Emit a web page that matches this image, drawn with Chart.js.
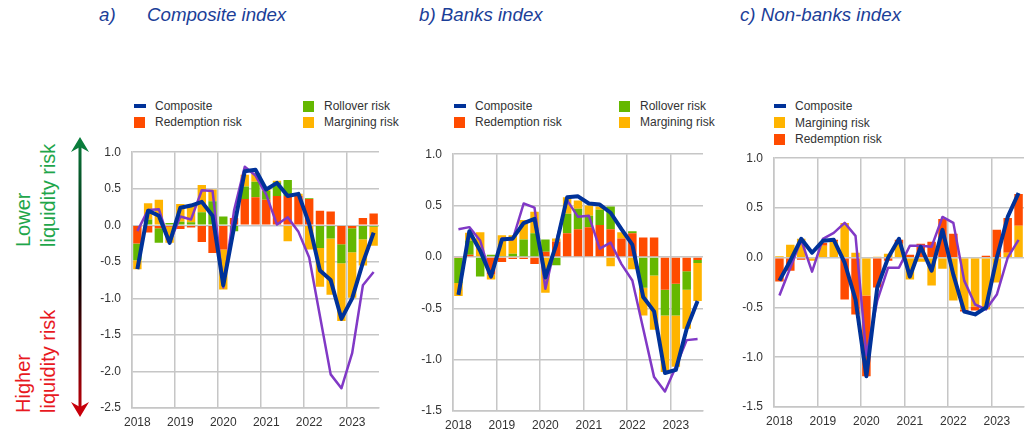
<!DOCTYPE html>
<html>
<head>
<meta charset="utf-8">
<script src="https://cdn.jsdelivr.net/npm/chart.js@4.4.0/dist/chart.umd.min.js"></script>
<style>
  body { margin: 0; width: 1030px; height: 432px; background: #fff; position: relative; overflow: hidden;
         font-family: "Liberation Sans", Arial, sans-serif; }
  .title { position: absolute; top: 4px; line-height: 22px; font-style: italic; font-size: 18.7px; color: #1b3e98; white-space: nowrap; }
  .leg { position: absolute; font-size: 12px; line-height: 16px; height: 16px; color: #333; white-space: nowrap; }
  .leg i { position: absolute; left: 0; top: 2.5px; width: 11px; height: 11px; }
  .leg i.ln { top: 6px; width: 12px; height: 4px; }
  .leg span { position: absolute; left: 21px; top: 0; }
  canvas { position: absolute; }
</style>
</head>
<body>

<svg width="100" height="432" style="position:absolute;left:0;top:0" font-family="Liberation Sans, Arial, sans-serif" font-size="20">
  <defs>
    <linearGradient id="arrowGrad" x1="0" y1="137" x2="0" y2="417" gradientUnits="userSpaceOnUse">
      <stop offset="0" stop-color="#0a7d3c"/>
      <stop offset="0.5" stop-color="#000"/>
      <stop offset="1" stop-color="#c8000a"/>
    </linearGradient>
  </defs>
  <line x1="80" y1="145" x2="80" y2="409" stroke="url(#arrowGrad)" stroke-width="3"/>
  <path d="M80 137 L71 152 L80 147 L89 152 Z" fill="#0a7d3c"/>
  <path d="M80 417 L71 402 L80 407 L89 402 Z" fill="#c8000a"/>
  <text transform="translate(30,247) rotate(-90)" fill="#1fa64b">Lower</text>
  <text transform="translate(54.5,247) rotate(-90)" fill="#1fa64b">liquidity risk</text>
  <text transform="translate(30,413) rotate(-90)" fill="#e8191f">Higher</text>
  <text transform="translate(54.5,413) rotate(-90)" fill="#e8191f">liquidity risk</text>
</svg>

<div class="title" style="left:99px">a)</div>
<div class="title" style="left:147px">Composite index</div>
<div class="title" style="left:419px">b) Banks index</div>
<div class="title" style="left:740px">c) Non-banks index</div>

<div class="leg" style="left:134px;top:98px"><i class="ln" style="background:#003299"></i><span>Composite</span></div>
<div class="leg" style="left:134px;top:114px"><i style="background:#ff4b00"></i><span>Redemption risk</span></div>
<div class="leg" style="left:303px;top:98px"><i style="background:#65b800"></i><span>Rollover risk</span></div>
<div class="leg" style="left:303px;top:114px"><i style="background:#ffb400"></i><span>Margining risk</span></div>

<div class="leg" style="left:454px;top:98px"><i class="ln" style="background:#003299"></i><span>Composite</span></div>
<div class="leg" style="left:454px;top:114px"><i style="background:#ff4b00"></i><span>Redemption risk</span></div>
<div class="leg" style="left:619px;top:98px"><i style="background:#65b800"></i><span>Rollover risk</span></div>
<div class="leg" style="left:619px;top:114px"><i style="background:#ffb400"></i><span>Margining risk</span></div>

<div class="leg" style="left:774px;top:98px"><i class="ln" style="background:#003299"></i><span>Composite</span></div>
<div class="leg" style="left:774px;top:114.5px"><i style="background:#ffb400"></i><span>Margining risk</span></div>
<div class="leg" style="left:774px;top:131px"><i style="background:#ff4b00"></i><span>Redemption risk</span></div>

<canvas id="chartA" width="295" height="298" style="left:90px;top:134px"></canvas>
<canvas id="chartB" width="298" height="296" style="left:411px;top:136px"></canvas>
<canvas id="chartC" width="298" height="292" style="left:732px;top:140px"></canvas>

<script>
const quarters = [
  "2018Q1", "2018Q2", "2018Q3", "2018Q4",
  "2019Q1", "2019Q2", "2019Q3", "2019Q4",
  "2020Q1", "2020Q2", "2020Q3", "2020Q4",
  "2021Q1", "2021Q2", "2021Q3", "2021Q4",
  "2022Q1", "2022Q2", "2022Q3", "2022Q4",
  "2023Q1", "2023Q2", "2023Q3"
];

// a) Composite index
const aComposite = [-0.6, 0.2, 0.13, -0.24, 0.24, 0.27, 0.32, 0.13, -0.82, -0.03, 0.74, 0.76, 0.49, 0.58, 0.4, 0.43, 0.02, -0.62, -0.75, -1.28, -1.0, -0.51, -0.1];
const aPurple = [-0.08, 0.21, 0.22, -0.24, 0.12, 0.08, 0.48, 0.47, -0.85, 0.2, 0.8, 0.68, 0.42, 0.01, 0.11, -0.09, -0.44, -1.24, -2.04, -2.23, -1.75, -0.82, -0.64];
const aRedemption = [-0.25, -0.1, -0.04, -0.02, -0.05, -0.03, -0.23, -0.38, -0.33, 0.1, 0.36, 0.385, 0.35, 0.4, 0.4, 0.4, 0.36, 0.2, 0.19, -0.26, -0.04, 0.1, 0.16];
const aRollover = [-0.23, 0.08, -0.2, 0.03, 0.05, 0.04, 0.18, 0.33, 0.12, -0.08, 0.17, 0.21, 0.12, 0.19, 0.22, 0, 0.01, -0.31, -0.18, -0.26, -0.33, -0.19, -0.02];
const aMargining = [-0.12, 0.22, 0.35, -0.22, 0.24, 0.24, 0.37, 0.16, -0.55, 0, 0.16, 0.12, 0.05, 0.02, -0.22, 0.03, -0.33, -0.53, -0.77, -0.79, -0.62, -0.36, -0.26];

// b) Banks index
const bComposite = [-0.37, 0.25, 0.06, -0.19, 0.17, 0.18, 0.33, 0.37, -0.2, 0.12, 0.58, 0.59, 0.52, 0.51, 0.43, 0.27, 0.12, -0.39, -0.53, -1.13, -1.1, -0.7, -0.43];
const bPurple = [0.27, 0.29, 0.16, -0.2, 0.18, 0.17, 0.52, 0.48, -0.31, 0.15, 0.55, 0.39, 0.4, 0.08, 0.14, -0.07, -0.23, -0.7, -1.17, -1.31, -1.07, -0.81, -0.8];
const bRedemption = [-0.01, 0.02, 0, -0.17, -0.05, -0.02, -0.02, -0.07, 0.05, 0.15, 0.23, 0.27, 0.29, 0.31, 0.27, 0.18, 0.23, 0.19, 0.19, -0.32, -0.26, -0.14, -0.03];
const bRollover = [-0.245, 0.14, -0.19, 0.02, 0.01, 0.03, 0.17, 0.23, 0.12, -0.08, 0.19, 0.2, 0.11, 0.15, 0.22, 0, 0.02, -0.3, -0.18, -0.25, -0.31, -0.18, -0.03];
const bMargining = [-0.125, 0.075, 0.24, -0.05, 0.2, 0.18, 0.19, 0.21, -0.35, 0.03, 0.16, 0.08, 0.1, 0.03, -0.09, 0.06, -0.12, -0.27, -0.53, -0.55, -0.5, -0.38, -0.37];

// c) Non-banks index
const cComposite = [-0.23, -0.03, 0.19, 0.05, 0.17, 0.18, -0.05, -0.42, -1.19, -0.3, 0.0, 0.19, -0.19, 0.11, -0.13, 0.28, -0.17, -0.54, -0.57, -0.5, 0.0, 0.41, 0.65];
const cPurple = [-0.38, -0.1, 0.18, -0.14, 0.19, 0.25, 0.35, 0.22, -0.98, -0.43, -0.1, -0.1, 0.12, 0.12, 0.11, 0.41, 0.35, -0.23, -0.47, -0.52, -0.37, 0.0, 0.18];
const cMargining = [0.015, 0.13, 0.19, -0.03, 0.12, 0.16, 0.35, 0.05, -0.38, 0.01, 0.04, 0.14, -0.22, -0.04, -0.28, -0.11, -0.43, -0.52, -0.49, -0.52, -0.25, 0.05, 0.32];
const cRedemption = [-0.24, -0.13, -0.02, 0, 0.03, 0.02, -0.42, -0.57, -0.81, -0.3, -0.03, 0.04, 0.03, 0.14, 0.16, 0.39, 0.24, -0.02, -0.04, 0.02, 0.28, 0.35, 0.32];

const RED = "#ff4b00", GREEN = "#65b800", YELLOW = "#ffb400", BLUE = "#003299", PURPLE = "#8139c6";
const GRID = "#c6c6c6";

Chart.defaults.font.family = '"Liberation Sans", Arial, sans-serif';
Chart.defaults.font.size = 12;
Chart.defaults.color = "#333";

function drawPanel(id, bars, composite, purple, yMin, yMax, xAxisH) {
  const datasets = [
    { type: "line", data: composite, borderColor: BLUE, borderWidth: 4, pointRadius: 0, stack: "comp", order: 0, borderJoinStyle: "round" },
    { type: "line", data: purple, borderColor: PURPLE, borderWidth: 2.5, pointRadius: 0, stack: "purp", order: 1, borderJoinStyle: "round" }
  ];
  bars.forEach(b => {
    datasets.push({ type: "bar", data: b.data, backgroundColor: b.color, stack: "bars", order: 2,
                    barPercentage: 0.78, categoryPercentage: 1 });
  });

  new Chart(document.getElementById(id), {
    type: "bar",
    data: { labels: quarters, datasets: datasets },
    options: {
      responsive: false,
      animation: false,
      layout: { padding: { top: 10, right: 6, left: 0, bottom: 0 } },
      plugins: { legend: { display: false }, tooltip: { enabled: false } },
      scales: {
        x: {
          ticks: {
            autoSkip: false, maxRotation: 0, padding: 7,
            callback: (v, i) => (i % 4 === 0 ? quarters[i].slice(0, 4) : "")
          },
          grid: { color: c => (c.index % 4 === 0 ? GRID : "rgba(0,0,0,0)"), lineWidth: 1.5, drawTicks: false },
          border: { color: GRID, width: 1.5 },
          afterFit: s => { s.height = xAxisH; }
        },
        y: {
          stacked: true, min: yMin, max: yMax,
          ticks: { stepSize: 0.5, padding: 11, callback: v => v.toFixed(1) },
          grid: { color: GRID, lineWidth: 1.5, drawTicks: false },
          border: { color: GRID, width: 1.5 },
          afterFit: s => { s.width = 42; }
        }
      }
    }
  });
}

drawPanel("chartA", [
  { data: aRedemption, color: RED },
  { data: aRollover, color: GREEN },
  { data: aMargining, color: YELLOW }
], aComposite, aPurple, -2.5, 1.0, 24);

drawPanel("chartB", [
  { data: bRedemption, color: RED },
  { data: bRollover, color: GREEN },
  { data: bMargining, color: YELLOW }
], bComposite, bPurple, -1.5, 1.0, 21);

drawPanel("chartC", [
  { data: cMargining, color: YELLOW },
  { data: cRedemption, color: RED }
], cComposite, cPurple, -1.5, 1.0, 25);
</script>
</body>
</html>
